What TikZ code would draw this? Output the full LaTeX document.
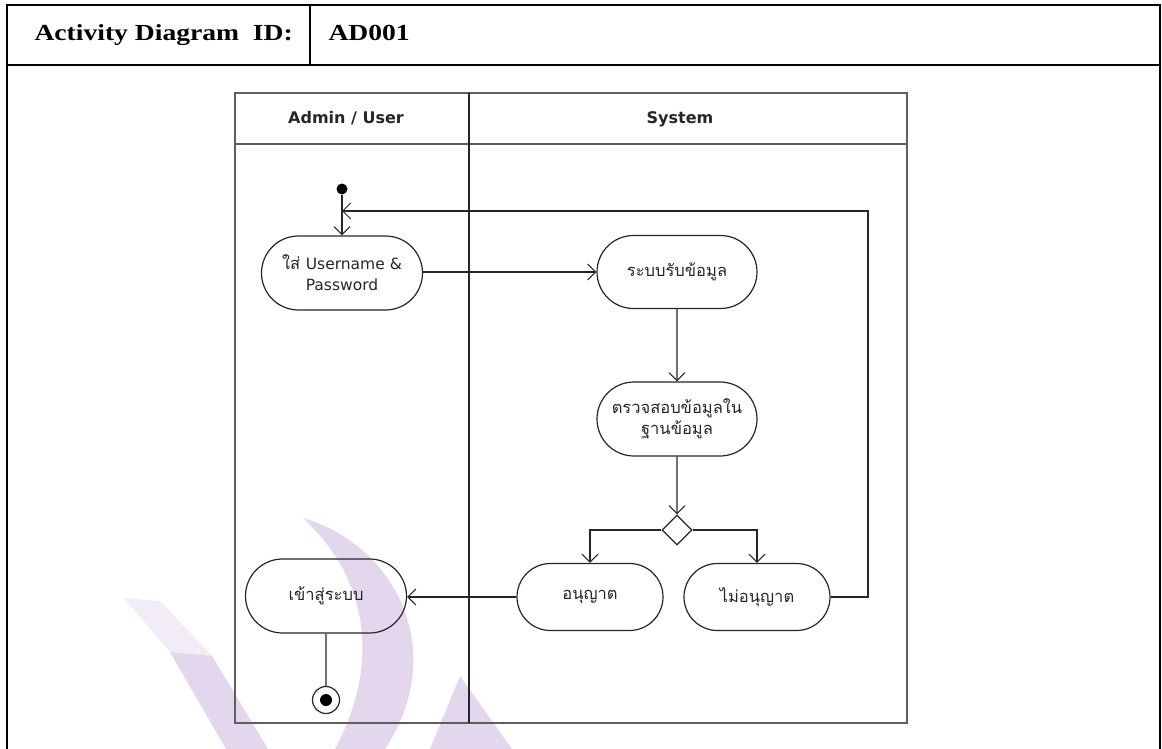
\documentclass[tikz,border=0pt]{standalone}
\usepackage{fontspec}
\setmainfont{Liberation Serif}
\newfontfamily\headfont[FakeStretch=1.2]{Liberation Serif}
\newfontfamily\thaifont[Script=Thai]{Loma}
\newfontfamily\latfont{DejaVu Sans}
\usetikzlibrary{arrows.meta,shapes.misc,shapes.geometric}
\definecolor{ink}{HTML}{262626}
\definecolor{lanegray}{HTML}{5E5E5E}
\definecolor{wmark}{RGB}{226,215,237}
\definecolor{wmarklight}{RGB}{241,236,246}
\begin{document}
\begin{tikzpicture}[x=1pt,y=-1pt,
  frame/.style={draw=black,line width=2pt},
  lane/.style={draw=lanegray,line width=2pt},
  act/.style={rounded rectangle,draw=ink,line width=1.2pt,minimum width=161pt,
    minimum height=74pt,inner sep=0pt,align=center,text=ink,
    font=\thaifont\fontsize{16.5}{21}\selectfont},
  smallact/.style={act,minimum width=146pt,minimum height=67pt},
  flow/.style={draw=ink,line width=1.2pt,-{Straight Barb[length=8pt,width=16pt,line width=1pt]}},
  plain/.style={draw=ink,line width=1.2pt},
  lanehead/.style={font=\latfont\bfseries\fontsize{16}{19}\selectfont,text=ink,anchor=base},
  headtext/.style={font=\headfont\bfseries\fontsize{23}{26}\selectfont,anchor=base west}]

\useasboundingbox (0,0) rectangle (1162,749);
\fill[white] (0,0) rectangle (1162,749);

% faint watermark behind the diagram
\fill[wmarklight] (124,598) -- (160,601) -- (212,656) -- (170,652) -- cycle;
\fill[wmark] (303,518) .. controls (395,545) and (450,650) .. (385,749)
  -- (335,749) .. controls (380,665) and (370,580) .. (303,518) -- cycle;
\fill[wmark] (170,652) -- (212,656) -- (268,749) -- (226,749) -- cycle;
\fill[wmark] (460,676) -- (512,749) -- (430,749) -- cycle;

% document table frame
\draw[frame] (7,749) -- (7,5) -- (1160,5) -- (1160,749);
\draw[frame] (7,65) -- (1160,65);
\draw[frame] (310,5) -- (310,65);
\node[headtext] (title) at (31,41) {Activity Diagram\ \ ID:};
\node[headtext] (docid) at (325,41) {AD001};

% swimlanes
\draw[lane] (235,93) rectangle (907,723);
\draw[lane] (235,144) -- (907,144);
\draw[plain] (469,93) -- (469,723);
\node[lanehead] (laneA) at (346,124) {Admin / User};
\node[lanehead] (laneB) at (680,124) {System};

% activity nodes
\node[circle,fill=black,inner sep=0pt,minimum size=11pt] (start) at (342,189) {};
\node[act] (input) at (342,273) {ใส่ {\latfont\fontsize{15.5}{21}\selectfont Username \&}\\{\latfont\fontsize{15.5}{21}\selectfont Password}};
\node[act,minimum width=160pt,minimum height=73pt] (recv) at (677,272) {ระบบรับข้อมูล};
\node[act,minimum width=160pt] (check) at (677,419) {ตรวจสอบข้อมูลใน\\ฐานข้อมูล};
\node[diamond,draw=ink,line width=1.2pt,minimum size=30pt,inner sep=0pt] (dec) at (677,530) {};
\node[smallact] (allow) at (590,597) {อนุญาต};
\node[smallact] (deny) at (757,597) {ไม่อนุญาต};
\node[act] (login) at (326,596) {เข้าสู่ระบบ};
\node[circle,draw=ink,line width=1.2pt,minimum size=27pt,inner sep=0pt] (final) at (326,700) {};
\node[circle,fill=black,inner sep=0pt,minimum size=12pt] (finaldot) at (final.center) {};

% control flow
\coordinate (loopcorner) at (868,211);
\coordinate (join) at (342,211);
\draw[flow] (start) -- (input);
\draw[flow] (input.east |- recv.west) -- (recv.west);
\draw[flow] (recv) -- (check);
\draw[flow] (check) -- (dec);
\draw[flow] (dec.west) -| (allow.north);
\draw[flow] (dec.east) -| (deny.north);
\draw[flow] (allow.west) -- (login.east |- allow.west);
\draw[plain] (login) -- (final);
\draw[flow] (deny.east) -| (loopcorner) -- (join);
\end{tikzpicture}
\end{document}
